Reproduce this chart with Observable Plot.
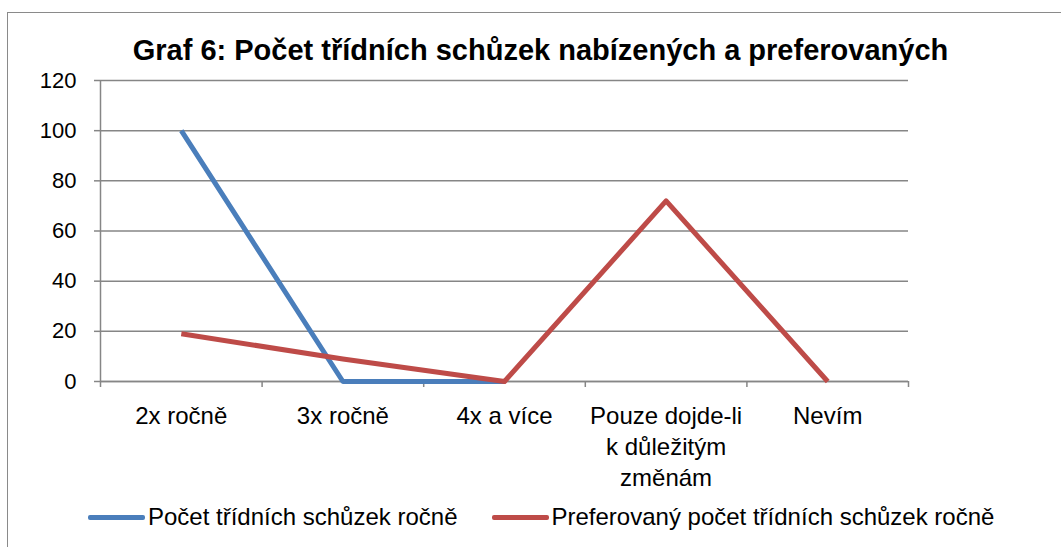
<!DOCTYPE html>
<html>
<head>
<meta charset="utf-8">
<script src="https://cdn.jsdelivr.net/npm/d3@7"></script>
<script src="https://cdn.jsdelivr.net/npm/@observablehq/plot@0.6"></script>
<style>
  html, body { margin: 0; padding: 0; background: #fff; }
  body { width: 1061px; height: 547px; position: relative; overflow: hidden; font-family: "Liberation Sans", Arial, sans-serif; }
  #frame { position: absolute; left: 7px; top: 12px; width: 1100px; height: 600px; border-left: 1.5px solid #8a8a8a; border-top: 1.5px solid #8a8a8a; box-sizing: border-box; }
  #title { position: absolute; left: 0; width: 1081px; top: 33px; text-align: center; font-weight: bold; font-size: 29px; color: #000; line-height: 34px; }
  #chart { position: absolute; left: 0; top: 60px; }
  #legend { position: absolute; top: 502px; left: 88px; display: flex; align-items: center; font-size: 24px; color: #000; white-space: nowrap; line-height: 30px; }
  .sw { display: inline-block; width: 57px; height: 5px; border-radius: 2px; margin-right: 3px; }
  .item { display: flex; align-items: center; }
</style>
</head>
<body>
<div id="frame"></div>
<div id="title"></div>
<div id="chart"></div>
<div id="legend"></div>
<script>
const titleText = "Graf 6: Počet třídních schůzek nabízených a preferovaných";
const categories = ["2x ročně", "3x ročně", "4x a více", "Pouze dojde-li\nk důležitým\nzměnám", "Nevím"];
const seriesNames = ["Počet třídních schůzek ročně", "Preferovaný počet třídních schůzek ročně"];
const offered = [100, 0, 0, null, null];
const preferred = [19, 9, 0, 72, 0];
const colors = ["#4a7ebb", "#be4b48"];
const yTicks = [0, 20, 40, 60, 80, 100, 120];

document.getElementById("title").textContent = titleText;

const rows = [];
[offered, preferred].forEach((vals, s) => {
  vals.forEach((v, i) => rows.push({series: seriesNames[s], idx: i + 0.5, value: v}));
});

const chart = Plot.plot({
  width: 1061,
  height: 441,
  marginLeft: 100,
  marginRight: 153,
  marginTop: 20,
  marginBottom: 120,
  style: {fontFamily: "'Liberation Sans', Arial, sans-serif", fontSize: "22px", color: "#000", background: "transparent"},
  x: {domain: [0, categories.length], axis: null},
  y: {domain: [0, 120], axis: null},
  color: {domain: seriesNames, range: colors},
  marks: [
    Plot.gridY(yTicks, {stroke: "#868686", strokeOpacity: 1, strokeWidth: 1.5}),
    Plot.axisY(yTicks, {tickSize: 6, tickPadding: 18, stroke: "#868686", strokeWidth: 1.5, fontSize: 22, label: null}),
    Plot.ruleX([0], {stroke: "#868686", strokeWidth: 1.5}),
    Plot.ruleY([0], {stroke: "#868686", strokeWidth: 1.5}),
    Plot.axisX(d3.range(categories.length + 1), {tickSize: 6, stroke: "#868686", strokeWidth: 1.5, tickFormat: () => "", label: null}),
    Plot.axisX(categories.map((c, i) => i + 0.5), {tickSize: 0, tickPadding: 20, tickFormat: (d) => categories[Math.floor(d)], lineHeight: 1.3, fontSize: 24, label: null, textAnchor: "middle"}),
    Plot.line(rows, {x: "idx", y: "value", z: "series", stroke: "series", strokeWidth: 5, strokeLinejoin: "round", strokeLinecap: "butt"})
  ]
});
document.getElementById("chart").appendChild(chart);

const legend = document.getElementById("legend");
seriesNames.forEach((name, i) => {
  const item = document.createElement("span");
  item.className = "item";
  item.style.marginRight = i === 0 ? "34px" : "0";
  const sw = document.createElement("span");
  sw.className = "sw";
  sw.style.background = colors[i];
  item.appendChild(sw);
  const t = document.createElement("span");
  t.textContent = name;
  item.appendChild(t);
  legend.appendChild(item);
});
</script>
</body>
</html>
